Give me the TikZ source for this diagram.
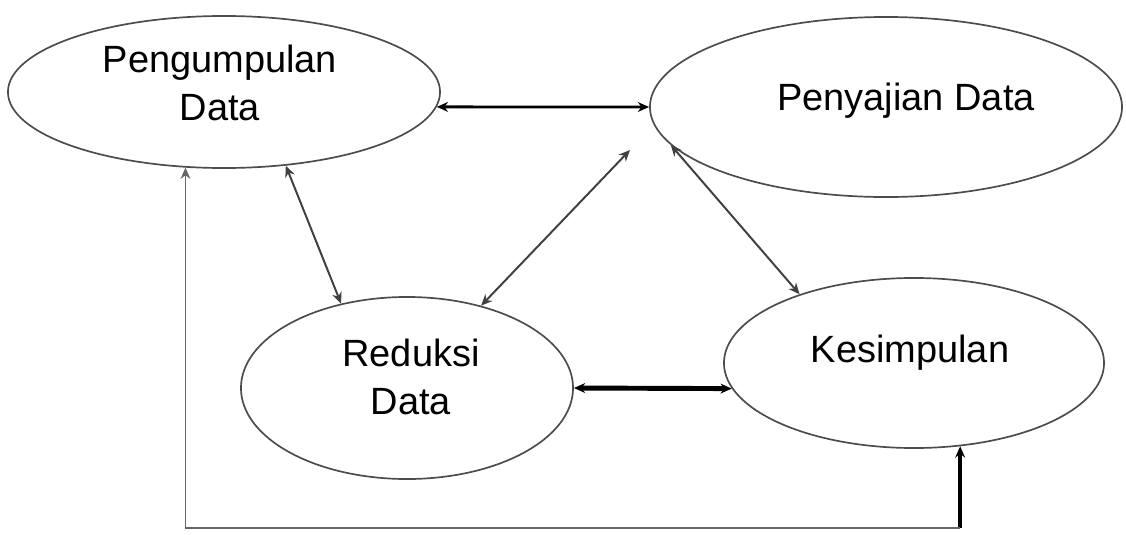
\documentclass[tikz,border=0pt]{standalone}
\usepackage{fontspec}
\newfontfamily\arial{Liberation Sans}
\usetikzlibrary{arrows.meta,shapes.geometric}

\begin{document}
\begin{tikzpicture}[x=0.025cm, y=-0.025cm,
  proses/.style={draw=black!70, line width=1.2pt, ellipse, inner sep=0pt},
  teks/.style={font=\arial\fontsize{27}{34}\selectfont, align=center, inner sep=0pt},
  panah/.style={{Stealth[length=8pt,width=7pt]}-{Stealth[length=8pt,width=7pt]}, line width=1.4pt, draw=black!75}]

\useasboundingbox (0,0) rectangle (1126,534);

% Elips
\node[proses, minimum width=10.8cm, minimum height=3.8cm] (pengumpulan) at (224,92) {};
\node[proses, minimum width=11.8cm, minimum height=4.5cm] (penyajian) at (886,107) {};
\node[proses, minimum width=8.3cm, minimum height=4.55cm] (reduksi) at (407,388) {};
\node[proses, minimum width=9.5cm, minimum height=4.25cm] (kesimpulan) at (914,363) {};

% Teks
\node[teks] (pengumpulan-teks) at (220,83) {Pengumpulan\\Data};
\node[teks, anchor=base] (penyajian-teks) at (906,110) {Penyajian Data};
\node[teks] (reduksi-teks) at (411,377) {Reduksi\\Data};
\node[teks, anchor=base] (kesimpulan-teks) at (910,362) {Kesimpulan};

% Panah antar tahap
\draw[panah, draw=black, line width=2pt] (pengumpulan.-4) -- (penyajian.west);
\draw[panah] (pengumpulan.-50) -- (reduksi.128);
\coordinate (ujung) at (630,150);
\draw[panah] (reduksi.48) -- (ujung);
\draw[panah] (penyajian.190) -- (kesimpulan.149);
\draw[panah, draw=black, line width=3.5pt] (reduksi.east) -- (kesimpulan.188);

% Garis balik ke pengumpulan
\coordinate (bawah) at (560,528);
\draw[{Stealth[length=8pt,width=7pt]}-, draw=black, line width=2.5pt] (kesimpulan.-61) -- (kesimpulan.-61 |- bawah);
\draw[-{Stealth[length=8pt,width=7pt]}, draw=black!60, line width=1.2pt] (kesimpulan.-61 |- bawah) -| (pengumpulan.-117);

\end{tikzpicture}
\end{document}
